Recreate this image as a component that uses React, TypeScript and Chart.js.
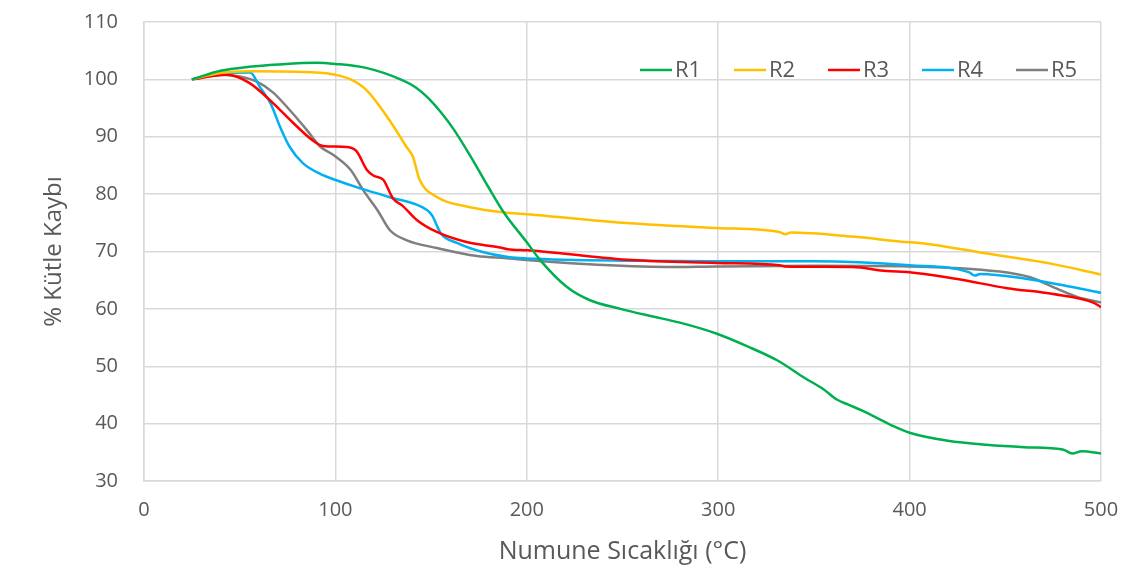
import React, { useEffect, useRef } from "react";
import { Chart, registerables } from "chart.js";

Chart.register(...registerables);

const seriesNames = ["R1", "R2", "R3", "R4", "R5"];
const seriesColors = ["#00B050", "#FFC000", "#FF0000", "#00B0F0", "#7F7F7F"];

const r1X = [25, 40, 55, 70, 90, 100, 116, 134, 142, 148, 155, 162, 172, 180, 188, 200, 207, 221, 233, 249, 264, 280, 299, 315, 331, 345, 355, 362, 368, 375, 390, 400, 420, 440, 460, 480, 485, 490, 500];
const r1Y = [100, 101.5, 102.2, 102.6, 102.9, 102.7, 102, 100, 98.6, 96.9, 94.3, 91.2, 85.8, 81.2, 76.8, 71.6, 68.5, 63.8, 61.5, 60, 58.8, 57.6, 55.7, 53.5, 51, 48, 46, 44.2, 43.3, 42.3, 39.8, 38.4, 37, 36.3, 35.9, 35.5, 34.8, 35.2, 34.8];

const r2X = [25, 40, 55, 90, 100, 108, 116, 128, 137, 140.5, 144, 153, 169, 191, 200, 250, 299, 332, 335, 338, 370, 400, 405, 447, 475, 500];
const r2Y = [100, 101.1, 101.4, 101.2, 100.8, 100, 98.2, 93, 88.3, 86.5, 82.5, 79.5, 77.8, 76.7, 76.5, 75, 74.1, 73.4, 73.0, 73.3, 72.6, 71.6, 71.5, 69.3, 67.8, 66];

const r3X = [25, 43, 55, 67, 78, 88, 93.5, 106, 111, 116.5, 120, 125, 130, 135, 142.5, 153, 169, 186, 190, 200, 208, 255, 299, 332, 335, 370, 388, 400, 425, 451, 475, 496, 500];
const r3Y = [100, 100.8, 99.4, 96, 92.4, 89.4, 88.4, 88.2, 87.5, 84.2, 83.2, 82.5, 79.3, 78, 75.5, 73.4, 71.6, 70.7, 70.4, 70.2, 70, 68.5, 68, 67.6, 67.4, 67.3, 66.6, 66.4, 65.2, 63.6, 62.6, 61.1, 60.3];

const r4X = [25, 38, 55.5, 60.5, 66, 71, 76, 83, 93.5, 99, 113, 128, 148, 150.5, 155, 163.5, 177, 191, 200, 255, 299, 350, 400, 431, 434, 437, 460, 482, 500];
const r4Y = [100, 101, 101.2, 98.7, 95.9, 91.8, 88.3, 85.4, 83.3, 82.6, 81, 79.5, 77.2, 76.3, 73.2, 71.5, 69.9, 69, 68.8, 68.4, 68.3, 68.3, 67.6, 66.4, 65.8, 66.1, 65.3, 64, 62.8];

const r5X = [25, 41, 50, 59, 67.5, 76, 85, 92, 99, 108, 114.5, 122, 128.5, 137, 153, 174, 191, 200, 230, 273, 299, 350, 400, 447, 463, 475, 487.5, 500];
const r5Y = [100, 100.8, 100.5, 99.6, 97.7, 94.7, 91.2, 88.3, 86.8, 84.2, 80.7, 77.2, 73.7, 72, 70.6, 69.2, 68.8, 68.5, 67.8, 67.3, 67.4, 67.5, 67.4, 66.5, 65.5, 63.8, 62.1, 61.1];

const xTicks = [0, 100, 200, 300, 400, 500];
const yTicks = [30, 40, 50, 60, 70, 80, 90, 100, 110];
const xTitle = "Numune Sıcaklığı (°C)";
const yTitle = "% Kütle Kaybı";

const allX = [r1X, r2X, r3X, r4X, r5X];
const allY = [r1Y, r2Y, r3Y, r4Y, r5Y];

const legendPlugin = {
  id: "insideLegend",
  afterDraw(chart: any) {
    const ctx = chart.ctx;
    const area = chart.chartArea;
    ctx.save();
    ctx.font = "22px 'Open Sans'";
    ctx.textBaseline = "middle";
    ctx.textAlign = "left";
    const startX = area.right - 461;
    const y = area.top + 48;
    seriesNames.forEach((name, i) => {
      const x0 = startX + i * 94;
      ctx.strokeStyle = seriesColors[i];
      ctx.lineWidth = 2.5;
      ctx.beginPath();
      ctx.moveTo(x0, y);
      ctx.lineTo(x0 + 32, y);
      ctx.stroke();
      ctx.fillStyle = "#595959";
      ctx.fillText(name, x0 + 35, y + 1);
    });
    ctx.restore();
  },
};

export default function App() {
  const canvasRef = useRef<HTMLCanvasElement | null>(null);

  useEffect(() => {
    if (!canvasRef.current) return;
    const datasets = seriesNames.map((name, i) => ({
      label: name,
      data: allX[i].map((x, j) => ({ x, y: allY[i][j] })),
      borderColor: seriesColors[i],
      backgroundColor: seriesColors[i],
      borderWidth: 2.5,
      pointRadius: 0,
      cubicInterpolationMode: "monotone",
      fill: false,
    }));
    const chart = new Chart(canvasRef.current, {
      type: "line",
      data: { datasets },
      options: {
        animation: false,
        responsive: false,
        maintainAspectRatio: false,
        layout: { padding: { top: 22, right: 35, left: 40, bottom: 0 } },
        plugins: {
          legend: { display: false },
          tooltip: { enabled: false },
        },
        scales: {
          x: {
            type: "linear",
            min: 0,
            max: 500,
            afterBuildTicks: (axis: any) => {
              axis.ticks = xTicks.map((v) => ({ value: v }));
            },
            afterFit: (axis: any) => {
              axis.height = 91;
              axis.paddingLeft = 0;
              axis.paddingRight = 0;
            },
            grid: { color: "#d9d9d9", lineWidth: 1.5, drawTicks: false },
            border: { color: "#d9d9d9", width: 1.5 },
            ticks: {
              color: "#595959",
              font: { family: "'Open Sans'", size: 20 },
              padding: 17,
              maxRotation: 0,
            },
            title: {
              display: true,
              text: xTitle,
              color: "#595959",
              font: { family: "'Open Sans'", size: 25 },
              padding: { top: 0, bottom: 5 },
            },
          },
          y: {
            type: "linear",
            min: 30,
            max: 110,
            afterBuildTicks: (axis: any) => {
              axis.ticks = yTicks.map((v) => ({ value: v }));
            },
            afterFit: (axis: any) => {
              axis.width = 104;
              axis.paddingTop = 0;
              axis.paddingBottom = 0;
            },
            grid: { color: "#d9d9d9", lineWidth: 1.5, drawTicks: false },
            border: { color: "#d9d9d9", width: 1.5 },
            ticks: {
              color: "#595959",
              font: { family: "'Open Sans'", size: 20 },
              padding: 26,
            },
            title: {
              display: true,
              text: yTitle,
              color: "#595959",
              font: { family: "'Open Sans'", size: 24 },
              padding: { top: 0, bottom: 0 },
            },
          },
        },
      },
      plugins: [legendPlugin],
    } as any);
    return () => chart.destroy();
  }, []);

  return (
    <div style={{ position: "fixed", left: 0, top: 0, width: 1136, height: 572, background: "#fff" }}>
      <canvas ref={canvasRef} width={1136} height={572} style={{ width: 1136, height: 572 }} />
    </div>
  );
}
